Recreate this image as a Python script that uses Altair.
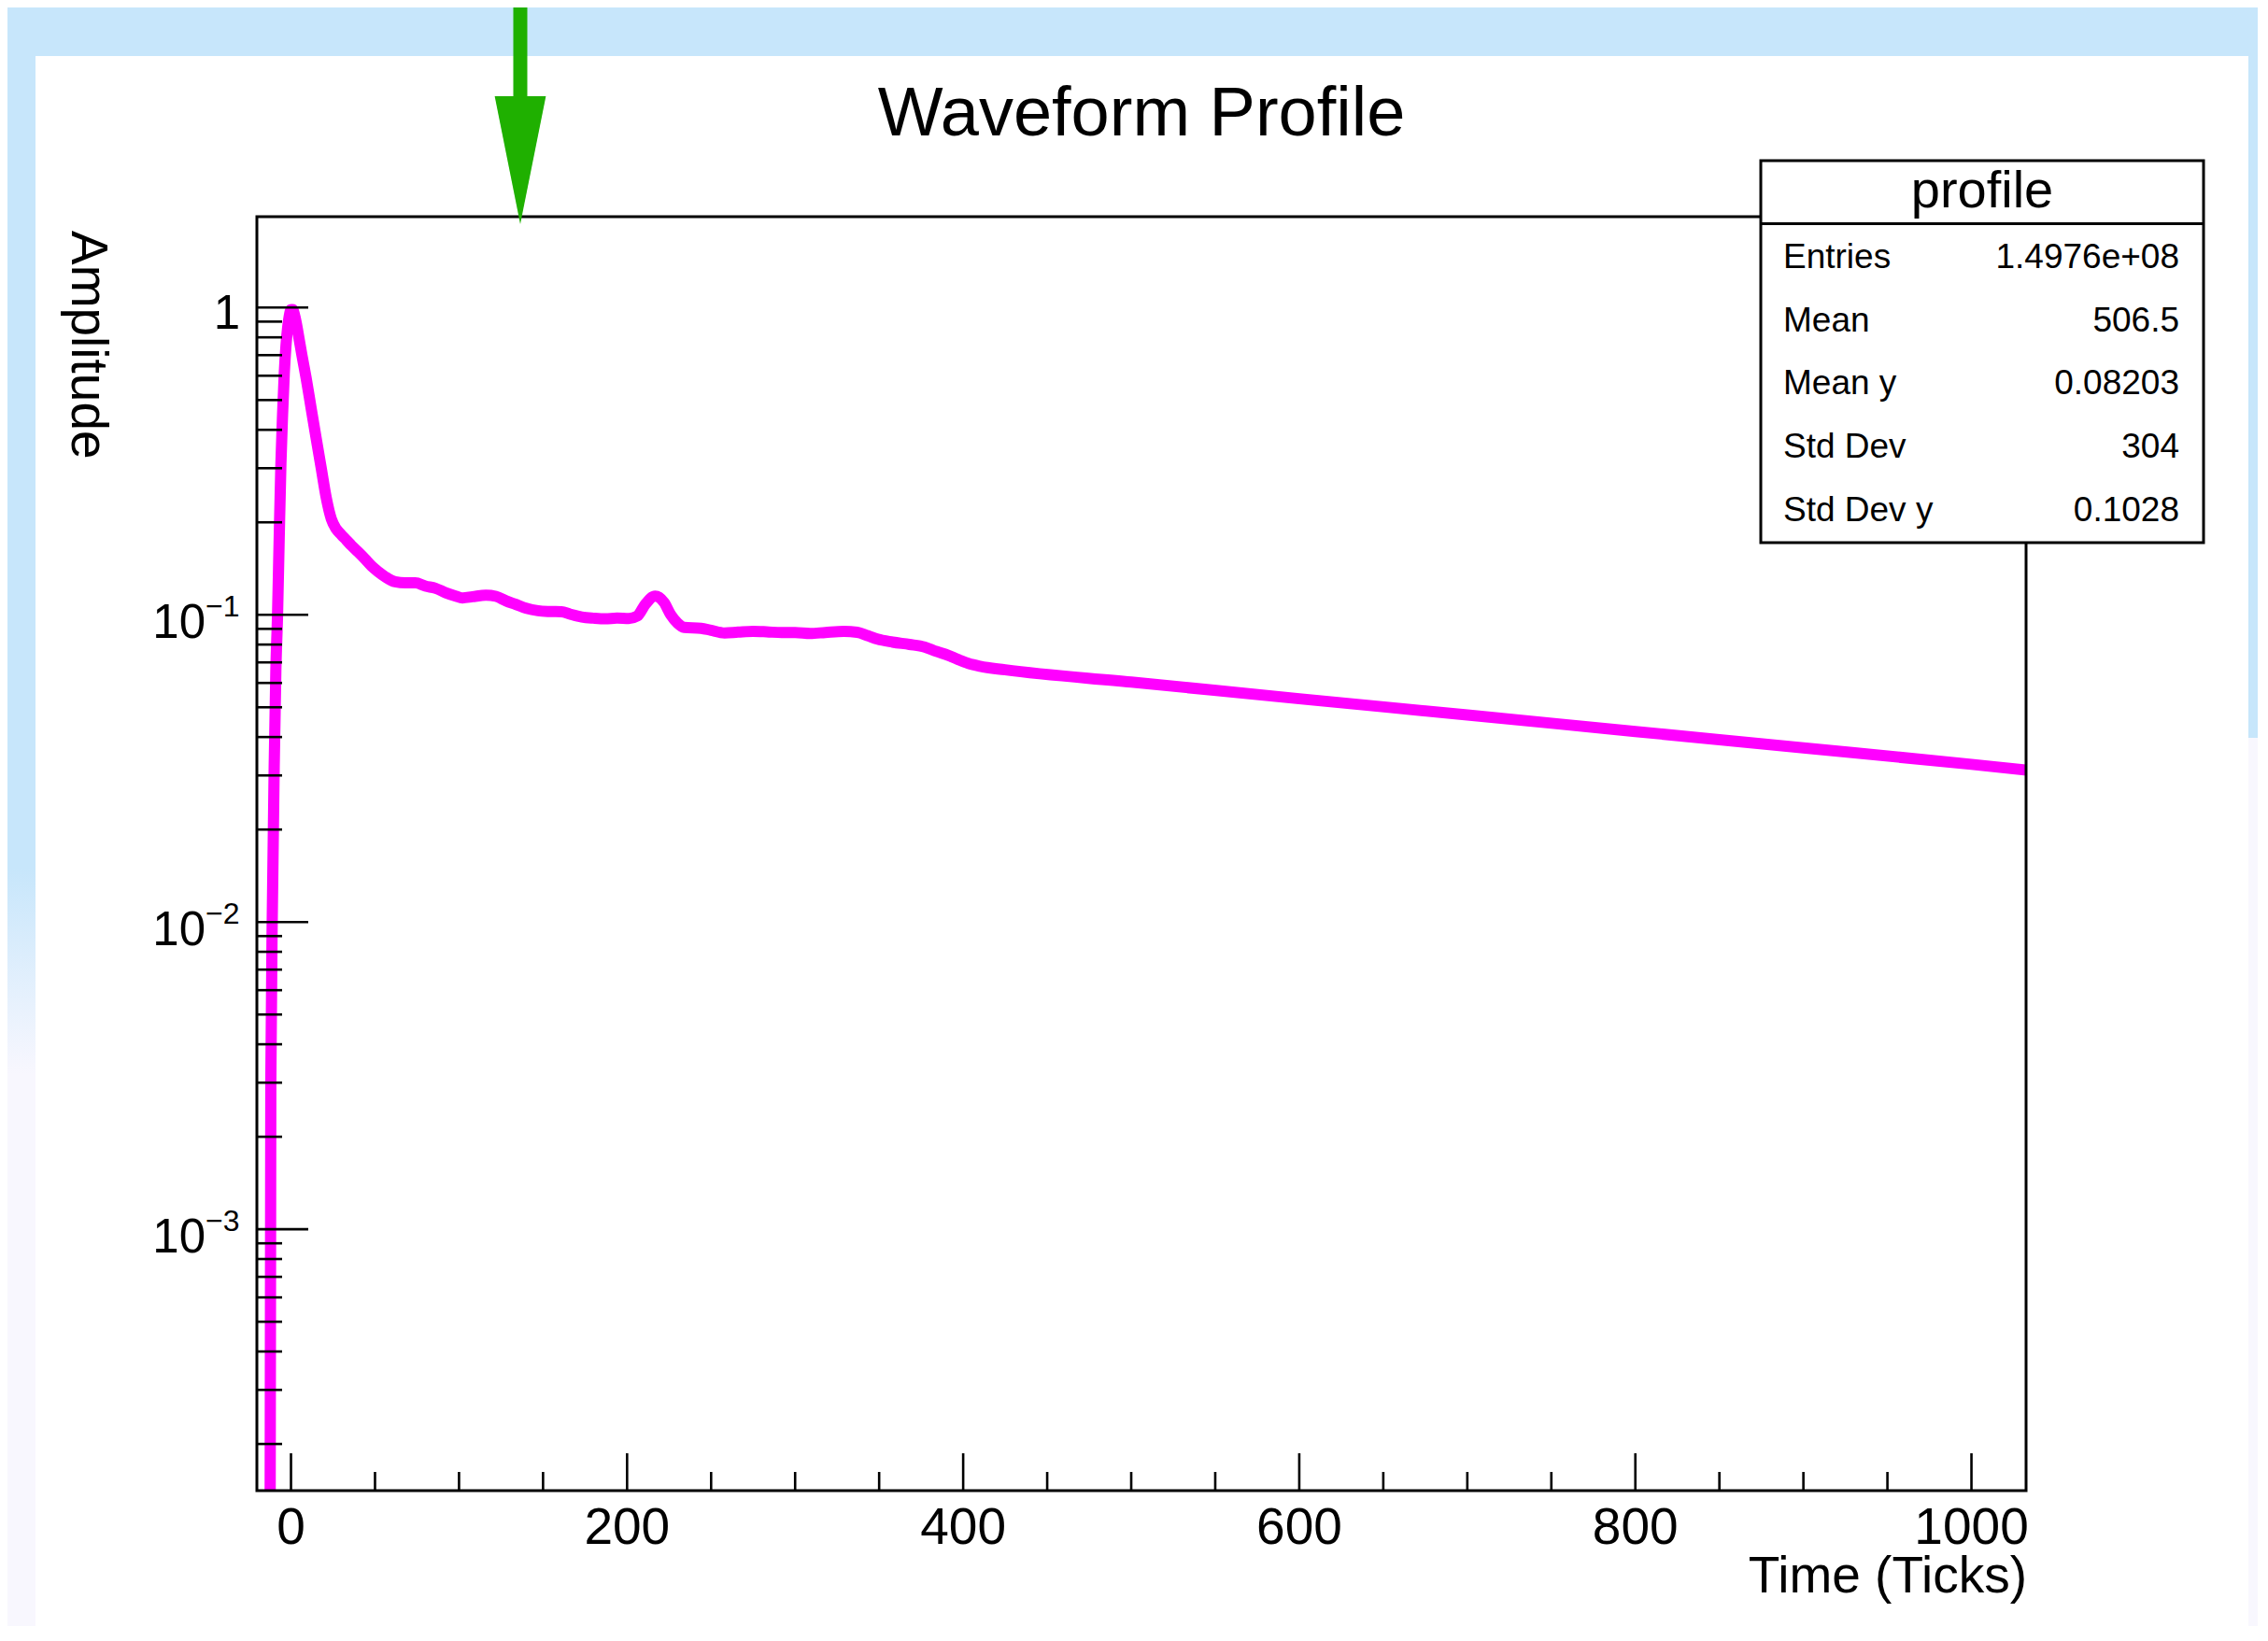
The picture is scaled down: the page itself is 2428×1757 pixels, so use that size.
import altair as alt
import pandas as pd

# ---------------- data ----------------
time_ticks = [-13, -12, -11, -10, -9, -8, -7, -6, -5, -4, -3, -2, -1, 0, 1, 2, 3, 4, 5, 6.5,
              9, 12, 15, 18, 21, 24, 27, 30, 33, 36, 40, 44, 48, 52, 56, 62, 68, 74, 80, 86,
              92, 98, 102, 108, 116, 122, 128, 134, 140, 147, 154, 161, 166, 173, 180, 187,
              194, 201, 206, 211, 216.7, 222, 226, 230, 234, 244, 250, 258, 266, 275, 283,
              292, 300, 309, 318, 329, 337, 343, 349, 358, 368, 377, 384, 391, 397, 403, 410,
              425, 500, 600, 700, 800, 900, 1000, 1033]
amplitude = [1e-6, 0.003, 0.012, 0.032, 0.066, 0.10, 0.18, 0.31, 0.45, 0.61, 0.75, 0.86, 0.94,
             0.985, 0.985, 0.95, 0.90, 0.84, 0.78, 0.70,
             0.59, 0.47, 0.375, 0.30, 0.24, 0.205, 0.19, 0.182, 0.175, 0.168, 0.160, 0.152,
             0.144, 0.138, 0.133, 0.128, 0.127, 0.127, 0.124, 0.122,
             0.118, 0.115, 0.1135, 0.1145, 0.1158, 0.1148, 0.111, 0.108, 0.105, 0.1031,
             0.1025, 0.1023, 0.1005, 0.0984, 0.0975, 0.097,
             0.0975, 0.0972, 0.099, 0.1085, 0.115, 0.1097, 0.100, 0.094, 0.091, 0.0904,
             0.089, 0.0873, 0.0878, 0.0883, 0.088,
             0.0875, 0.0875, 0.0869, 0.0876, 0.0883, 0.0877, 0.0856, 0.0833, 0.0815, 0.0801,
             0.0786, 0.076, 0.0738, 0.0715, 0.0695, 0.068,
             0.0662, 0.0604, 0.0533, 0.0472, 0.0417, 0.0369, 0.0326, 0.0312]

x_major = [0, 200, 400, 600, 800, 1000]
x_major_labels = ["0", "200", "400", "600", "800", "1000"]
x_minor = [v for v in range(50, 1001, 50) if v % 200 != 0]
y_exp_ticks = [1e-3, 1e-2, 1e-1]
y_exp_labels = ["\u22123", "\u22122", "\u22121"]
y_unit_tick = [1.0]
y_major = [1e-3, 1e-2, 1e-1, 1.0]
y_minor = [m * 10.0 ** k for k in (-4, -3, -2, -1) for m in range(2, 10)
           if m * 10.0 ** k > 1.41e-4]

stat_names = ["Entries", "Mean", "Mean y", "Std Dev", "Std Dev y"]
stat_values = ["1.4976e+08", "506.5", "0.08203", "304", "0.1028"]

title_text = "Waveform Profile"
x_title = "Time (Ticks)"
y_title = "Amplitude"
stats_title = "profile"

# ---------------- layout ----------------
W, H = 1894, 1364
FONT = "Liberation Sans"
BLUE = "#c7e6fb"
LAV = "#f8f7fe"
GREEN = "#1fb000"

xscale = alt.Scale(domain=[-20.3, 1032.5], nice=False, zero=False)
yscale = alt.Scale(type="log", domain=[1.41e-4, 1.976], nice=False)

one = pd.DataFrame({"k": [0]})


def box(x1, x2, y1, y2, **kw):
    return alt.Chart(one).mark_rect(**kw).encode(
        x=alt.value(x1), x2=alt.value(x2), y=alt.value(y1), y2=alt.value(y2))


def text(t, x, y, size, align="left", angle=0):
    return alt.Chart(pd.DataFrame({"t": [t]})).mark_text(
        font=FONT, fontSize=size, align=align, baseline="alphabetic", angle=angle,
        color="black").encode(x=alt.value(x), y=alt.value(y), text="t:N")


layers = []
# page decorations (canvas, side strips)
grad = alt.LinearGradient(gradient="linear", x1=0, x2=0, y1=0, y2=1,
                          stops=[alt.GradientStop(color=BLUE, offset=0),
                                 alt.GradientStop(color=LAV, offset=1)])
layers.append(box(-300, -237, 698, 918, color=grad))
layers.append(box(-300, -237, 918, 1600, color=LAV))
layers.append(box(2132, 2300, 558, 1600, color=LAV))
layers.append(box(-237, 2132, -172, 1600, color="white"))

# curve
curve_df = pd.DataFrame({"t": time_ticks, "a": amplitude})
layers.append(alt.Chart(curve_df).mark_line(
    color="#ff00ff", strokeWidth=12, interpolate="monotone", clip=True,
    strokeJoin="round").encode(
    x=alt.X("t:Q", scale=xscale, axis=None),
    y=alt.Y("a:Q", scale=yscale, axis=None)))

# frame
layers.append(box(0, W, 0, H, fillOpacity=0, stroke="black", strokeWidth=3))

# ticks
layers.append(alt.Chart(pd.DataFrame({"v": y_major})).mark_rule(
    color="black", strokeWidth=2.6).encode(
    y=alt.Y("v:Q", scale=yscale, axis=None), x=alt.value(0), x2=alt.value(55)))
layers.append(alt.Chart(pd.DataFrame({"v": y_minor})).mark_rule(
    color="black", strokeWidth=2.6).encode(
    y=alt.Y("v:Q", scale=yscale, axis=None), x=alt.value(0), x2=alt.value(27)))
layers.append(alt.Chart(pd.DataFrame({"v": x_major})).mark_rule(
    color="black", strokeWidth=2.6).encode(
    x=alt.X("v:Q", scale=xscale, axis=None), y=alt.value(H), y2=alt.value(H - 40)))
layers.append(alt.Chart(pd.DataFrame({"v": x_minor})).mark_rule(
    color="black", strokeWidth=2.6).encode(
    x=alt.X("v:Q", scale=xscale, axis=None), y=alt.value(H), y2=alt.value(H - 20)))

# tick labels
layers.append(alt.Chart(pd.DataFrame({"v": x_major, "l": x_major_labels})).mark_text(
    font=FONT, fontSize=55, align="center", baseline="alphabetic", color="black").encode(
    x=alt.X("v:Q", scale=xscale, axis=None), y=alt.value(H + 57), text="l:N"))
layers.append(alt.Chart(pd.DataFrame({"v": y_exp_ticks, "l": ["10"] * 3})).mark_text(
    font=FONT, fontSize=51, align="right", baseline="alphabetic", dy=24.5,
    color="black").encode(
    y=alt.Y("v:Q", scale=yscale, axis=None), x=alt.value(-55), text="l:N"))
layers.append(alt.Chart(pd.DataFrame({"v": y_exp_ticks, "l": y_exp_labels})).mark_text(
    font=FONT, fontSize=32, align="left", baseline="alphabetic", dy=2,
    color="black").encode(
    y=alt.Y("v:Q", scale=yscale, axis=None), x=alt.value(-55), text="l:N"))
layers.append(alt.Chart(pd.DataFrame({"v": y_unit_tick, "l": ["1"]})).mark_text(
    font=FONT, fontSize=51, align="right", baseline="alphabetic", dy=22.5,
    color="black").encode(
    y=alt.Y("v:Q", scale=yscale, axis=None), x=alt.value(-18), text="l:N"))

# titles
layers.append(text(title_text, W / 2, -87, 74, align="center"))
layers.append(text(x_title, W + 1, H + 109, 55, align="right"))
layers.append(text(y_title, -198, 15, 55, align="left", angle=90))

# stats box
layers.append(box(1610, 2084, -60, 349, color="white", stroke="black", strokeWidth=3))
layers.append(alt.Chart(one).mark_rule(color="black", strokeWidth=3).encode(
    x=alt.value(1610), x2=alt.value(2084), y=alt.value(7.5)))
layers.append(text(stats_title, 1847, -10, 56, align="center"))
for i, (n, v) in enumerate(zip(stat_names, stat_values)):
    yb = 54.7 + 67.8 * i
    layers.append(text(n, 1634, yb, 37, align="left"))
    layers.append(text(v, 2058, yb, 37, align="right"))

# green arrow
layers.append(box(274.5, 289.5, -260, -127, color=GREEN))
layers.append(alt.Chart(one).mark_point(
    shape="M -0.4 -1 L 0.4 -1 L 0 1 Z", size=18769, filled=True, color=GREEN,
    opacity=1, strokeWidth=0).encode(x=alt.value(282), y=alt.value(-60.5)))

chart = alt.layer(*layers).properties(
    width=W, height=H,
    autosize=alt.AutoSizeParams(type="none"),
    padding={"left": 267, "top": 224, "right": 248, "bottom": 145},
).configure(background=BLUE).configure_view(strokeOpacity=0)

chart.save("out.html", embed_options={"renderer": "svg", "actions": False})
